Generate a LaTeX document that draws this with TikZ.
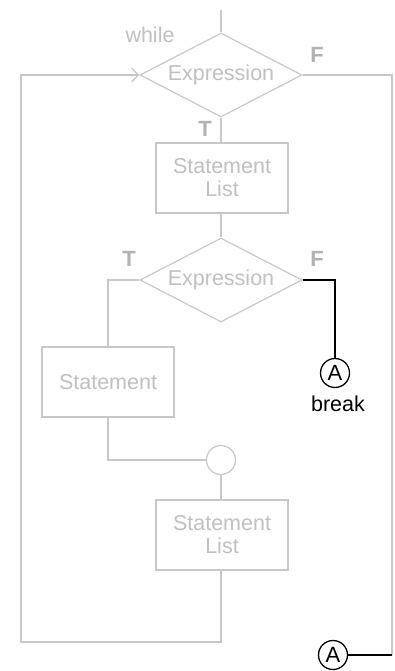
\documentclass[tikz,border=0pt]{standalone}
\usepackage{fontspec}
\setmainfont{Liberation Sans}
\usetikzlibrary{shapes.geometric,arrows.meta}
\definecolor{lg}{RGB}{200,200,200}
\definecolor{tg}{RGB}{192,192,192}
\definecolor{tfg}{RGB}{178,178,178}
\begin{document}
\begin{tikzpicture}[x=1pt,y=-1pt,
  gl/.style={draw=lg, line width=1.2pt},
  bl/.style={draw=black, line width=1.3pt},
  txt/.style={font=\fontsize{21.5}{23}\selectfont},
  dia/.style={diamond, draw=lg, line width=1.2pt, minimum width=162pt, minimum height=84pt, aspect=1.93, inner sep=0pt, text=tg, txt},
  sbox/.style={rectangle, draw=lg, line width=1.2pt, minimum width=132pt, minimum height=70pt, inner sep=0pt, text=tg, align=center, txt},
  tf/.style={text=tfg, font=\bfseries\fontsize{22}{24}\selectfont, inner sep=0pt},
  conn/.style={circle, draw=black, line width=1.3pt, minimum size=29pt, inner sep=0pt, font=\fontsize{22}{24}\selectfont}
]
\useasboundingbox (0,0) rectangle (395,671);
\fill[white] (0,0) rectangle (395,671);
\coordinate (top) at (221,10);
\node[dia] (d1) at (221,75) {Expression};
\node[sbox] (b1) at (222,178) {Statement\\List};
\node[dia] (d2) at (221,280) {Expression};
\node[sbox] (s) at (108,382) {Statement};
\node[circle, draw=lg, line width=1.2pt, minimum size=29pt, inner sep=0pt] (j) at (221,460) {};
\node[sbox] (b2) at (222,535) {Statement\\List};
\node[conn] (a1) at (335,373) {A};
\node[txt, inner sep=0pt] (brk) at (338,404) {break};
\node[conn] (a2) at (333,655) {A};
\node[txt, text=tg, inner sep=0pt] (wh) at (150,35) {while};
\node[tf] (f1) at (317,55) {F};
\node[tf] (t1) at (205,129) {T};
\node[tf] (t2) at (129,259) {T};
\node[tf] (f2) at (317,259) {F};
\coordinate (lb) at (21,642);
\coordinate (rb) at (392,655);
% connectors
\draw[gl] (top) -- (d1.north);
\draw[gl] (d1.south) -- (d1.south |- b1.north);
\draw[gl] (d2.north |- b1.south) -- (d2.north);
\draw[gl] (d2.west) -| (s.north);
\draw[gl] (s.south) |- (j.west);
\draw[gl] (j.south) -- (j.south |- b2.north);
\draw[gl, -{Straight Barb[length=7pt,width=14pt]}] (j.south |- b2.south) |- (lb) |- (d1.west);
\draw[gl] (d1.east) -| (rb);
\draw[bl] (a2.east) -- (rb);
\draw[bl] (d2.east) -| (a1.north);
\end{tikzpicture}
\end{document}
